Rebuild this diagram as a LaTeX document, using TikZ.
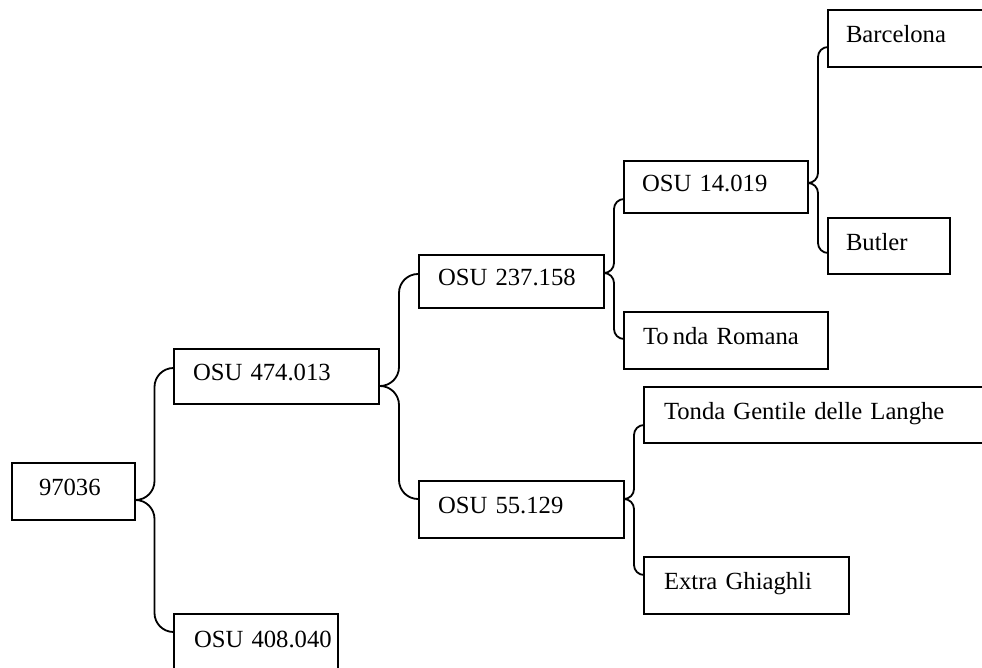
\documentclass[tikz,border=0pt]{standalone}
\usepackage{fontspec}
\setmainfont{Liberation Serif}
\usetikzlibrary{calc}

% one bracket arm from a parent box to a child box
% #1 parent, #2 drop of the tip below the parent's top, #3 child, #4 drop of the end below the child's top, #5 corner radius
\newcommand\bracketarm[5]{%
  \draw[link, rounded corners=#5]
    ([yshift=-#2]#1.north east)
    -| ($([yshift=-#2]#1.north east)!0.5!([yshift=-#4]#3.north west)$)
    |- ([yshift=-#4]#3.north west);
}

\begin{document}
\begin{tikzpicture}[x=0.5pt, y=-0.5pt,
  box/.style={draw, line width=1pt, rectangle, anchor=north west,
    align=left, inner xsep=0pt, inner ysep=0pt,
    font=\fontsize{12.33pt}{14pt}\selectfont,
    text height=0.7em, text depth=0.25em},
  pad/.style={execute at begin node={\hspace*{#1}}},
  link/.style={draw, line width=0.9pt}]
\useasboundingbox (0,0) rectangle (982,668);
\clip (0,0) rectangle (982,668);

% boxes: corner, width, height and left padding in points
\node[box, pad=13.5pt, text width=61.5pt, minimum height=28.5pt] (r) at (11,462) {97036};
\node[box, pad=9.5pt, text width=102.5pt, minimum height=27.5pt] (a) at (173,348) {OSU 474.013};
\node[box, pad=10pt, text width=82pt, minimum height=29pt] (b) at (173,613) {OSU 408.040};
\node[box, pad=9.5pt, text width=92.5pt, minimum height=26.5pt] (c) at (418,254) {OSU 237.158};
\node[box, pad=9.5pt, text width=102.5pt, minimum height=28.5pt] (d) at (418,480) {OSU 55.129};
\node[box, pad=9pt, text width=92pt, minimum height=26pt] (e) at (623,160) {OSU 14.019};
\node[box, pad=9.5pt, text width=102pt, minimum height=28.5pt] (f) at (623,311) {To\,nda Romana};
\node[box, pad=9pt, text width=100pt, minimum height=28.5pt] (g) at (827,9) {Barcelona};
\node[box, pad=9pt, text width=61pt, minimum height=28pt] (h) at (827,217) {Butler};
\node[box, pad=10pt, text width=200pt, minimum height=28pt] (i) at (643,386) {Tonda Gentile delle Langhe};
\node[box, pad=10pt, text width=102.5pt, minimum height=28.5pt] (j) at (643,556) {Extra Ghiaghli};

% bracket connectors
\bracketarm{r}{19pt}{a}{10pt}{9.5pt}
\bracketarm{r}{19pt}{b}{9.5pt}{9.5pt}
\bracketarm{a}{19pt}{c}{10pt}{9.5pt}
\bracketarm{a}{19pt}{d}{9.5pt}{9.5pt}
\bracketarm{c}{9.5pt}{e}{19.5pt}{5pt}
\bracketarm{c}{9.5pt}{f}{14pt}{5pt}
\bracketarm{e}{11.5pt}{g}{19pt}{5pt}
\bracketarm{e}{11.5pt}{h}{18pt}{5pt}
\bracketarm{d}{9.5pt}{i}{19.5pt}{5pt}
\bracketarm{d}{9.5pt}{j}{9.5pt}{5pt}
\end{tikzpicture}
\end{document}
